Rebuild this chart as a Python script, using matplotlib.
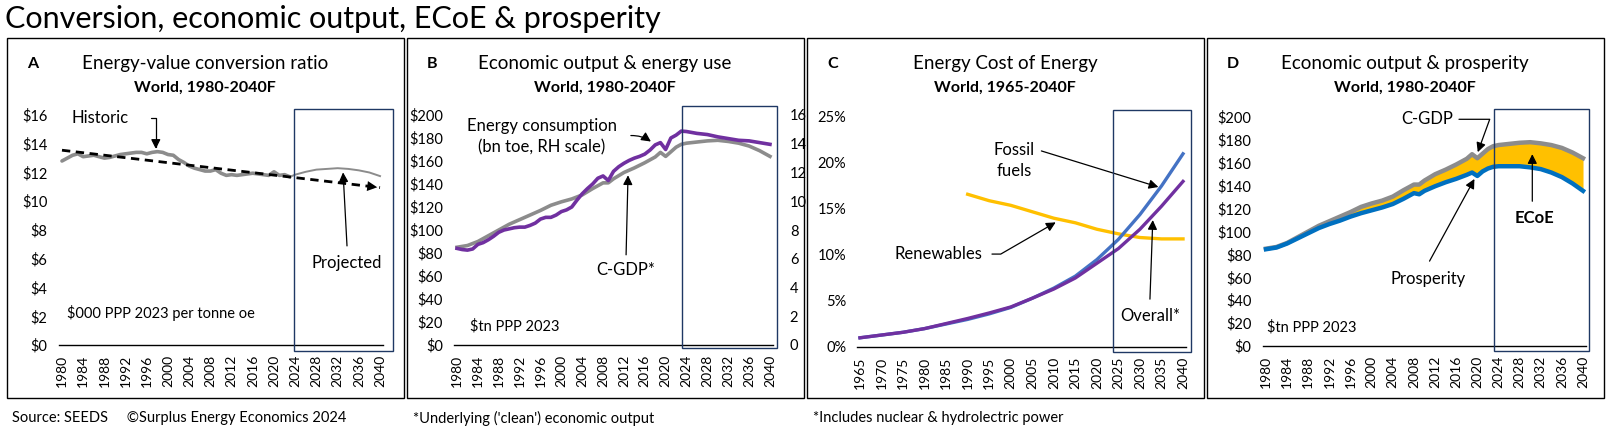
import matplotlib
matplotlib.use("Agg")
import matplotlib.pyplot as plt
from matplotlib.patches import Rectangle

plt.rcParams['font.family'] = ['Lato', 'DejaVu Sans']

# ── data ──────────────────────────────────────────────────────────────────────
# A: energy-value conversion ratio ($000 per toe)
years_hist = list(range(1980, 2024))
ratio_hist = [12.8, 13.0, 13.2, 13.3, 13.1, 13.15, 13.2, 13.1, 13.0, 13.05,
              13.15, 13.25, 13.3, 13.35, 13.4, 13.4, 13.3, 13.4, 13.45, 13.4,
              13.25, 13.2, 12.9, 12.7, 12.45, 12.3, 12.2, 12.1, 12.1, 12.2,
              11.95, 11.8, 11.85, 11.8, 11.85, 11.9, 11.95, 11.9, 11.85, 11.8,
              12.05, 11.8, 11.85, 11.7]
years_proj = [2023, 2024, 2026, 2028, 2030, 2032, 2034, 2036, 2038, 2040]
ratio_proj = [11.7, 11.85, 12.05, 12.2, 12.25, 12.3, 12.25, 12.15, 12.0, 11.75]
trend_years = [1980, 2040]
trend_vals = [13.55, 10.95]

# B & D: C-GDP and prosperity ($tn PPP 2023)
years_gdp = [1980, 1982, 1984, 1986, 1988, 1990, 1992, 1994, 1996, 1998, 2000,
             2002, 2004, 2006, 2008, 2009, 2010, 2012, 2014, 2016, 2018, 2019,
             2020, 2021, 2022, 2023, 2024, 2026, 2028, 2030, 2032, 2034, 2036,
             2038, 2040]
cgdp = [85, 86.5, 90, 95, 100, 105, 109, 113, 117, 121.5, 124.5,
        127, 130.5, 136, 141, 141, 144.5, 150, 154, 158.5, 163.5, 167.5,
        164, 168, 172, 174.5, 175.5, 176.5, 177.5, 178, 177, 175.5, 173,
        169, 164]
prosperity = [84.5, 86, 89.5, 94, 98.5, 103, 106.5, 109.5, 113, 116, 118.5,
              121, 124, 128.5, 133.5, 132.5, 135.5, 139.5, 143, 146, 149.5, 151.5,
              148.5, 152.5, 155, 156.5, 157, 157, 157, 156, 154.5, 151.5, 147.5,
              142, 135.5]

# B: energy consumption (bn toe, RH scale)
years_energy = list(range(1980, 2025)) + [2026, 2028, 2030, 2032, 2034, 2036, 2038, 2040]
energy = [6.72, 6.64, 6.6, 6.68, 7.0, 7.12, 7.32, 7.56, 7.84, 8.0,
          8.08, 8.16, 8.2, 8.2, 8.32, 8.48, 8.76, 8.88, 8.88, 9.04,
          9.28, 9.4, 9.6, 10.08, 10.52, 10.88, 11.2, 11.6, 11.76, 11.44,
          12.08, 12.4, 12.64, 12.84, 13.0, 13.12, 13.28, 13.56, 13.92, 14.08,
          13.6, 14.4, 14.6, 14.88, 14.85,
          14.72, 14.64, 14.48, 14.36, 14.24, 14.2, 14.08, 13.96]

# C: ECoE (%)
years_c = list(range(1965, 2041, 5))
ecoe_fossil = [1.0, 1.3, 1.6, 2.0, 2.5, 3.0, 3.6, 4.3, 5.3, 6.4, 7.7, 9.5, 11.7, 14.4, 17.5, 21.0]
ecoe_overall = [1.0, 1.3, 1.6, 2.0, 2.55, 3.1, 3.7, 4.35, 5.3, 6.3, 7.5, 9.1, 10.7, 12.8, 15.3, 18.0]
years_ren = list(range(1990, 2041, 5))
ecoe_ren = [16.6, 15.9, 15.4, 14.7, 14.0, 13.5, 12.8, 12.3, 11.9, 11.75, 11.75]

# ── layout helpers (pixel coords, origin top-left) ───────────────────────────
W, H = 1607, 432
fig = plt.figure(figsize=(W / 100, H / 100), dpi=100)
fig.patch.set_facecolor('white')

GREY = '#8c8c8c'
PURPLE = '#7030a0'
BLUE_C = '#4472c4'
BLUE_D = '#0070c0'
YELLOW = '#ffc000'
NAVY = '#1f3864'

ANN = 12      # annotation font size
TICK = 10.5


def px_axes(x0, y0, x1, y1):
    return fig.add_axes([x0 / W, 1 - y1 / H, (x1 - x0) / W, (y1 - y0) / H])


def px_text(x, y, s, **kw):
    fig.text(x / W, 1 - y / H, s, **kw)


def px_rect(x0, y0, x1, y1, color, lw):
    fig.patches.append(Rectangle((x0 / W, 1 - y1 / H), (x1 - x0) / W, (y1 - y0) / H,
                                 transform=fig.transFigure, fill=False,
                                 edgecolor=color, linewidth=lw, zorder=10))


def style(ax, xticks, ylim, yticks, fmt):
    for s in ['top', 'right', 'left']:
        ax.spines[s].set_visible(False)
    ax.spines['bottom'].set_linewidth(1.0)
    ax.set_xticks(xticks)
    ax.set_xticklabels([str(t) for t in xticks], rotation=90, fontsize=10)
    ax.set_ylim(*ylim)
    ax.set_yticks(yticks)
    ax.set_yticklabels([fmt(v) for v in yticks], fontsize=TICK)
    ax.tick_params(axis='both', length=0)
    ax.tick_params(axis='y', pad=8)
    ax.tick_params(axis='x', pad=7)
    ax.patch.set_alpha(0)


arrow = dict(arrowstyle='-|>', color='black', lw=0.9, mutation_scale=14)

# ── title / panel boxes / footer ──────────────────────────────────────────────
px_text(5, 19, 'Conversion, economic output, ECoE & prosperity', fontsize=22, va='center')
for x0, x1 in [(7, 404), (407, 804), (807, 1204), (1207, 1604)]:
    px_rect(x0, 38, x1, 398, 'black', 1.0)

foot = dict(fontsize=10.5, va='center')
px_text(12, 418, 'Source: SEEDS     \u00a9Surplus Energy Economics 2024', **foot)
px_text(413, 418, "*Underlying ('clean') economic output", **foot)
px_text(813, 418, '*Includes nuclear & hydrolectric power', **foot)

panels = [('A', 'Energy-value conversion ratio', 'World, 1980-2040F', 205),
          ('B', 'Economic output & energy use', 'World, 1980-2040F', 605),
          ('C', 'Energy Cost of Energy', 'World, 1965-2040F', 1005),
          ('D', 'Economic output & prosperity', 'World, 1980-2040F', 1405)]
for i, (letter, t1, t2, cx) in enumerate(panels):
    px_text(27 + 400 * i, 64, letter, fontsize=11.5, fontweight='bold', va='center')
    px_text(cx, 64, t1, fontsize=13.5, ha='center', va='center')
    px_text(cx, 88, t2, fontsize=11.5, fontweight='bold', ha='center', va='center')

# projection boxes
for r in [(294, 109, 393, 351), (682, 106, 777, 348), (1113, 110, 1191, 352), (1494, 109, 1589, 351)]:
    px_rect(*r, NAVY, 1.0)

yrs4 = list(range(1980, 2041, 4))

# ── A ────────────────────────────────────────────────────────────────────────
axA = px_axes(58.8, 115, 383.2, 345)
axA.plot(years_hist, ratio_hist, color=GREY, lw=2.6, solid_capstyle='round')
axA.plot(years_proj, ratio_proj, color=GREY, lw=1.4)
axA.plot(trend_years, trend_vals, color='black', lw=2.0, ls=(0, (3, 2)))
axA.annotate('', xy=(trend_years[1], trend_vals[1]), xytext=(2037.5, 11.06),
             arrowprops=dict(arrowstyle='-|>', color='black', lw=0, mutation_scale=18))
axA.set_xlim(1979.4, 2040.6)
style(axA, yrs4, (0, 16), list(range(0, 17, 2)), lambda v: f'${v}')
axA.text(1987.2, 15.8, 'Historic', fontsize=ANN, ha='center', va='center')
axA.annotate('', xy=(1997.7, 13.45), xytext=(1996.2, 15.8),
             arrowprops=dict(connectionstyle='angle,angleA=0,angleB=90,rad=0', **arrow))
axA.text(2033.8, 5.7, 'Projected', fontsize=ANN, ha='center', va='center')
axA.annotate('', xy=(2033.0, 12.2), xytext=(2033.8, 6.7), arrowprops=arrow)
axA.text(1980.9, 2.2, '$000 PPP 2023 per tonne oe', fontsize=10.5, va='center')

# ── B ────────────────────────────────────────────────────────────────────────
axB = px_axes(453.9, 115, 773.1, 345)
axB.plot(years_gdp, cgdp, color=GREY, lw=2.6)
axB.set_xlim(1979.4, 2040.6)
style(axB, yrs4, (0, 200), list(range(0, 201, 20)), lambda v: f'${v}')
axB2 = axB.twinx()
axB2.plot(years_energy, energy, color=PURPLE, lw=2.6)
axB2.set_ylim(0, 16)
axB2.set_yticks(list(range(0, 17, 2)))
axB2.set_yticklabels([str(v) for v in range(0, 17, 2)], fontsize=TICK)
axB2.tick_params(axis='y', length=0, pad=12)
for s in ['top', 'right', 'left', 'bottom']:
    axB2.spines[s].set_visible(False)
axB.text(1996.3, 181, 'Energy consumption\n(bn toe, RH scale)', fontsize=ANN,
         ha='center', va='center', linespacing=1.35)
axB.annotate('', xy=(2017.6, 175.5), xytext=(2012.8, 182),
             arrowprops=dict(connectionstyle='arc3,rad=-0.2', **arrow))
axB.text(2012.4, 65, 'C-GDP*', fontsize=ANN, ha='center', va='center')
axB.annotate('', xy=(2012.8, 150), xytext=(2012.4, 76), arrowprops=arrow)
axB.text(1982.5, 16.5, '$tn PPP 2023', fontsize=10.5, va='center')

# ── C ────────────────────────────────────────────────────────────────────────
axC = px_axes(857.4, 117, 1185.6, 347)
axC.plot(years_ren, ecoe_ren, color=YELLOW, lw=2.4)
axC.plot(years_c, ecoe_fossil, color=BLUE_C, lw=2.4)
axC.plot(years_c, ecoe_overall, color=PURPLE, lw=2.4)
axC.set_xlim(1964.4, 2040.6)
style(axC, years_c, (0, 25), list(range(0, 26, 5)), lambda v: f'{v}%')
axC.text(2000.8, 20.3, 'Fossil\nfuels', fontsize=ANN, ha='center', va='center', linespacing=1.35)
axC.annotate('', xy=(2034.9, 17.3), xytext=(2006.5, 21.4), arrowprops=arrow)
axC.text(1983.1, 10.1, 'Renewables', fontsize=ANN, ha='center', va='center')
axC.annotate('', xy=(2011.0, 13.7), xytext=(1995.0, 10.1),
             arrowprops=dict(connectionstyle='angle,angleA=0,angleB=-150,rad=0', **arrow))
axC.text(2032.3, 3.4, 'Overall*', fontsize=ANN, ha='center', va='center')
axC.annotate('', xy=(2033.0, 14.1), xytext=(2032.3, 4.9), arrowprops=arrow)

# ── D ────────────────────────────────────────────────────────────────────────
axD = px_axes(1262.8, 117, 1586.2, 346)
axD.fill_between(years_gdp, prosperity, cgdp, color=YELLOW, lw=0)
axD.plot(years_gdp, cgdp, color=GREY, lw=3.2)
axD.plot(years_gdp, prosperity, color=BLUE_D, lw=3.2)
axD.set_xlim(1979.4, 2040.6)
style(axD, yrs4, (0, 200), list(range(0, 201, 20)), lambda v: f'${v}')
axD.text(2010.5, 198, 'C-GDP', fontsize=ANN, ha='center', va='center')
axD.annotate('', xy=(2019.9, 167), xytext=(2016.0, 198),
             arrowprops=dict(connectionstyle='angle,angleA=0,angleB=-110,rad=0', **arrow))
axD.text(2010.7, 58.5, 'Prosperity', fontsize=ANN, ha='center', va='center')
axD.annotate('', xy=(2019.7, 148), xytext=(2010.7, 72), arrowprops=arrow)
axD.text(2030.9, 111.8, 'ECoE', fontsize=ANN, fontweight='bold', ha='center', va='center')
axD.annotate('', xy=(2030.4, 170), xytext=(2030.4, 124), arrowprops=arrow)
axD.text(1980.2, 16.6, '$tn PPP 2023', fontsize=10.5, va='center')

plt.savefig('out.png', dpi=100)
